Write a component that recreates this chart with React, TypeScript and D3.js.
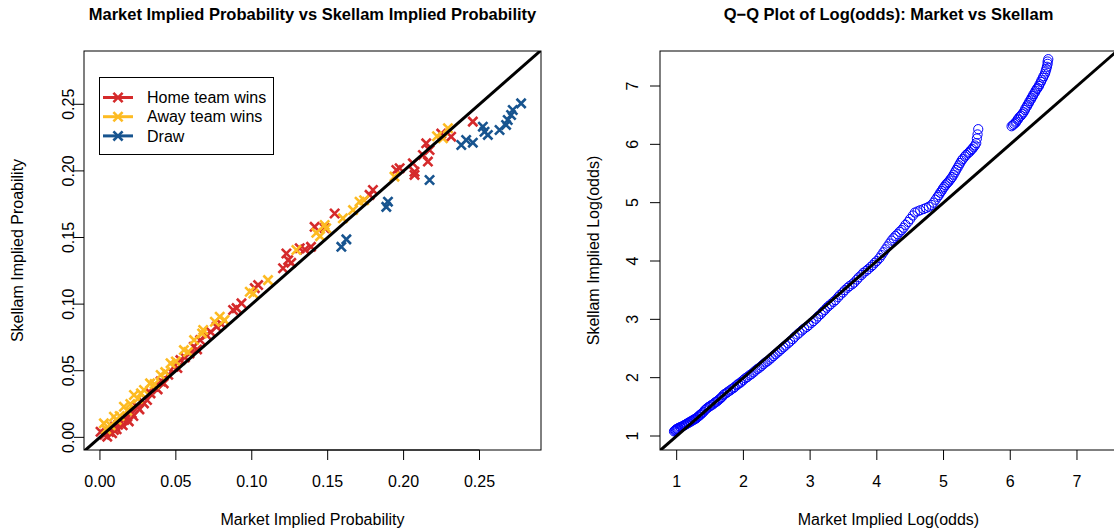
import React from "react";
import * as d3 from "d3";

// ---- Left panel data: (market implied prob, skellam implied prob) ----
const homeMarket = [0.0004, 0.003, 0.0048, 0.006, 0.008, 0.0092, 0.010, 0.011, 0.012, 0.0136, 0.015, 0.016, 0.018, 0.019, 0.021, 0.022, 0.0245, 0.026, 0.029, 0.031, 0.0333, 0.0355, 0.038, 0.040, 0.042, 0.045, 0.0487, 0.051, 0.053, 0.056, 0.059, 0.0618, 0.064, 0.066, 0.0702, 0.073, 0.0768, 0.080, 0.0877, 0.090, 0.0932, 0.1042, 0.102, 0.1206, 0.1228, 0.124, 0.126, 0.1316, 0.135, 0.139, 0.1414, 0.148, 0.1546, 0.1776, 0.1798, 0.1952, 0.1974, 0.2061, 0.2072, 0.2072, 0.216, 0.2127, 0.2171, 0.2149, 0.2248, 0.2313, 0.2456];
const homeSkellam = [0.0042, 0.002, 0.0005, 0.004, 0.003, 0.0055, 0.008, 0.006, 0.0095, 0.0105, 0.009, 0.013, 0.0155, 0.012, 0.018, 0.016, 0.023, 0.021, 0.0255, 0.028, 0.033, 0.038, 0.036, 0.042, 0.0405, 0.047, 0.053, 0.052, 0.058, 0.060, 0.063, 0.068, 0.066, 0.073, 0.0768, 0.079, 0.083, 0.085, 0.0956, 0.097, 0.1006, 0.1143, 0.112, 0.1269, 0.138, 0.133, 0.131, 0.1419, 0.141, 0.143, 0.158, 0.157, 0.168, 0.182, 0.1857, 0.2007, 0.202, 0.2057, 0.1994, 0.197, 0.207, 0.212, 0.2157, 0.2207, 0.228, 0.2257, 0.237];

const awayMarket = [0.0026, 0.004, 0.007, 0.0092, 0.011, 0.013, 0.0158, 0.018, 0.020, 0.0224, 0.025, 0.027, 0.029, 0.033, 0.036, 0.040, 0.043, 0.0465, 0.050, 0.0553, 0.058, 0.062, 0.0673, 0.068, 0.0757, 0.0789, 0.082, 0.0987, 0.101, 0.1107, 0.1294, 0.1425, 0.145, 0.148, 0.149, 0.160, 0.1667, 0.171, 0.174, 0.194, 0.222, 0.2259, 0.2292];
const awaySkellam = [0.0105, 0.006, 0.009, 0.0155, 0.013, 0.016, 0.023, 0.020, 0.025, 0.0318, 0.029, 0.033, 0.0355, 0.0405, 0.040, 0.0468, 0.049, 0.0556, 0.057, 0.0655, 0.064, 0.073, 0.078, 0.0806, 0.0868, 0.0905, 0.088, 0.1093, 0.108, 0.118, 0.1406, 0.1535, 0.151, 0.1594, 0.157, 0.1644, 0.1706, 0.1769, 0.178, 0.1957, 0.226, 0.2245, 0.232];

const drawMarket = [0.159, 0.1623, 0.1886, 0.1897, 0.2171, 0.238, 0.2412, 0.2456, 0.2522, 0.2533, 0.2555, 0.2632, 0.2675, 0.2686, 0.2708, 0.2719, 0.2774];
const drawSkellam = [0.143, 0.1486, 0.173, 0.1769, 0.1932, 0.2194, 0.2232, 0.2212, 0.2332, 0.2294, 0.227, 0.2307, 0.2345, 0.2382, 0.242, 0.2457, 0.2507];

// ---- Right panel: sorted quantile pairs [market log(odds), skellam log(odds)] ----
const qqPairs: [number, number][] = [
  [0.96, 1.08], [0.97, 1.09], [0.98, 1.10], [0.99, 1.11], [1.00, 1.12], [1.01, 1.12], [1.02, 1.13], [1.03, 1.14], [1.05, 1.15], [1.06, 1.15],
  [1.08, 1.16], [1.09, 1.17], [1.11, 1.18], [1.12, 1.19], [1.14, 1.20], [1.15, 1.21], [1.17, 1.22], [1.18, 1.23], [1.20, 1.24], [1.21, 1.25],
  [1.23, 1.26], [1.24, 1.27], [1.26, 1.28], [1.27, 1.29], [1.29, 1.30], [1.30, 1.31], [1.32, 1.33], [1.33, 1.34], [1.35, 1.36], [1.36, 1.37],
  [1.38, 1.39], [1.40, 1.41], [1.42, 1.44], [1.44, 1.46], [1.46, 1.48], [1.48, 1.50], [1.50, 1.51], [1.52, 1.53], [1.54, 1.54], [1.56, 1.56],
  [1.58, 1.58], [1.60, 1.59], [1.62, 1.61], [1.64, 1.63], [1.66, 1.65], [1.68, 1.67], [1.70, 1.70], [1.72, 1.72], [1.75, 1.74], [1.77, 1.76],
  [1.80, 1.78], [1.82, 1.80], [1.85, 1.82], [1.87, 1.84], [1.90, 1.87], [1.92, 1.89], [1.95, 1.91], [1.97, 1.93], [2.00, 1.96], [2.03, 1.99],
  [2.06, 2.01], [2.09, 2.04], [2.12, 2.06], [2.15, 2.09], [2.18, 2.12], [2.21, 2.15], [2.24, 2.17], [2.27, 2.20], [2.30, 2.23], [2.33, 2.26],
  [2.36, 2.28], [2.39, 2.31], [2.42, 2.34], [2.45, 2.37], [2.48, 2.40], [2.51, 2.43], [2.54, 2.46], [2.57, 2.49], [2.60, 2.52], [2.63, 2.55],
  [2.67, 2.59], [2.70, 2.62], [2.74, 2.66], [2.77, 2.70], [2.81, 2.74], [2.84, 2.77], [2.88, 2.81], [2.91, 2.84], [2.95, 2.87], [2.98, 2.90],
  [3.02, 2.94], [3.05, 2.97], [3.09, 3.01], [3.12, 3.05], [3.16, 3.09], [3.19, 3.13], [3.22, 3.16], [3.25, 3.20], [3.28, 3.23], [3.31, 3.26],
  [3.35, 3.30], [3.38, 3.33], [3.42, 3.38], [3.45, 3.42], [3.49, 3.46], [3.52, 3.50], [3.56, 3.54], [3.59, 3.57], [3.63, 3.60], [3.66, 3.63],
  [3.70, 3.68], [3.73, 3.72], [3.77, 3.76], [3.80, 3.80], [3.84, 3.83], [3.87, 3.86], [3.91, 3.90], [3.94, 3.93], [3.97, 3.97], [4.00, 4.00],
  [4.04, 4.05], [4.07, 4.10], [4.10, 4.15], [4.13, 4.20], [4.16, 4.25], [4.19, 4.30], [4.22, 4.35], [4.25, 4.39], [4.28, 4.43], [4.31, 4.46],
  [4.34, 4.50], [4.37, 4.53], [4.40, 4.57], [4.43, 4.62], [4.47, 4.67], [4.50, 4.72], [4.54, 4.78], [4.57, 4.83], [4.61, 4.85], [4.65, 4.87],
  [4.70, 4.89], [4.74, 4.91], [4.78, 4.93], [4.82, 4.96], [4.85, 5.00], [4.88, 5.05], [4.91, 5.10], [4.93, 5.13], [4.95, 5.17], [4.97, 5.20],
  [4.99, 5.24], [5.01, 5.27], [5.03, 5.30], [5.05, 5.33], [5.07, 5.35], [5.09, 5.38], [5.11, 5.41], [5.13, 5.44], [5.15, 5.48], [5.17, 5.52],
  [5.19, 5.56], [5.21, 5.60], [5.23, 5.64], [5.25, 5.68], [5.27, 5.72], [5.29, 5.75], [5.32, 5.79], [5.34, 5.82], [5.37, 5.85], [5.39, 5.87],
  [5.41, 5.90], [5.43, 5.92], [5.45, 5.95], [5.47, 5.98], [5.49, 6.02], [5.50, 6.10], [5.51, 6.17], [5.52, 6.26],
  [6.02, 6.31], [6.04, 6.33], [6.06, 6.35], [6.08, 6.37], [6.09, 6.39], [6.11, 6.42], [6.12, 6.44], [6.14, 6.47], [6.16, 6.49], [6.18, 6.52],
  [6.20, 6.55], [6.22, 6.59], [6.23, 6.62], [6.25, 6.65], [6.26, 6.68], [6.28, 6.71], [6.29, 6.74], [6.31, 6.77], [6.32, 6.80], [6.34, 6.83],
  [6.35, 6.86], [6.37, 6.89], [6.38, 6.92], [6.40, 6.95], [6.41, 6.97], [6.43, 7.00], [6.44, 7.03], [6.46, 7.07], [6.47, 7.10], [6.49, 7.14],
  [6.50, 7.17], [6.52, 7.21], [6.53, 7.25], [6.54, 7.29], [6.55, 7.33], [6.56, 7.38], [6.56, 7.42], [6.57, 7.46],
];

const probTicks = [0, 0.05, 0.1, 0.15, 0.2, 0.25];
const logTicks = [1, 2, 3, 4, 5, 6, 7];
const legendLabels = ["Home team wins", "Away team wins", "Draw"];
const seriesColors = ["#D52A2B", "#FDBB22", "#17548F"];

const FONT = "'Liberation Sans', Arial, Helvetica, sans-serif";

function crossPath(x: number, y: number, s: number) {
  return `M${x - s},${y - s}L${x + s},${y + s}M${x - s},${y + s}L${x + s},${y - s}`;
}

export default function App() {
  const W = 1114, H = 531;
  const L = { left: 84, right: 541, top: 51, bottom: 450 };
  const R = { left: 660, right: 1117, top: 51, bottom: 450 };

  const x1 = d3.scaleLinear().domain([-0.0105, 0.2905]).range([L.left, L.right]);
  const y1 = d3.scaleLinear().domain([-0.0095, 0.29]).range([L.bottom, L.top]);
  const x2 = d3.scaleLinear().domain([0.75, 7.6]).range([R.left, R.right]);
  const y2 = d3.scaleLinear().domain([0.76, 7.6]).range([R.bottom, R.top]);

  const fmt = d3.format(".2f");
  const series = [
    { m: homeMarket, s: homeSkellam },
    { m: awayMarket, s: awaySkellam },
    { m: drawMarket, s: drawSkellam },
  ];

  const tickLen = 10;
  const fs = 16;

  const lineGen1 = d3.line<number>().x((d) => x1(d)).y((d) => y1(d));
  const lineGen2 = d3.line<number>().x((d) => x2(d)).y((d) => y2(d));

  return (
    <div style={{ position: "fixed", left: 0, top: 0, width: W, height: H, background: "#fff" }}>
      <svg width={W} height={H} style={{ display: "block", fontFamily: FONT }}>
        <defs>
          <clipPath id="clipL"><rect x={L.left} y={L.top} width={L.right - L.left} height={L.bottom - L.top} /></clipPath>
          <clipPath id="clipR"><rect x={R.left} y={R.top} width={R.right - R.left} height={R.bottom - R.top} /></clipPath>
        </defs>
        <rect width={W} height={H} fill="#fff" />

        {/* ---------- Left panel ---------- */}
        <text x={(L.left + L.right) / 2} y={20} textAnchor="middle" fontWeight="bold" fontSize={16.5}>
          Market Implied Probability vs Skellam Implied Probability
        </text>
        <g clipPath="url(#clipL)">
          {series.map((ser, si) => (
            <g key={si} stroke={seriesColors[si]} strokeWidth={2.6} fill="none">
              {ser.m.map((mv, i) => (
                <path key={i} d={crossPath(x1(mv), y1(ser.s[i]), 4.6)} />
              ))}
            </g>
          ))}
          <path d={lineGen1([-0.05, 0.35]) || ""} stroke="#000" strokeWidth={3} fill="none" />
        </g>
        <rect x={L.left} y={L.top} width={L.right - L.left} height={L.bottom - L.top} fill="none" stroke="#000" strokeWidth={1} />
        <line x1={x1(probTicks[0])} x2={x1(probTicks[probTicks.length - 1])} y1={L.bottom} y2={L.bottom} stroke="#000" />
        {probTicks.map((t) => (
          <g key={"lx" + t}>
            <line x1={x1(t)} x2={x1(t)} y1={L.bottom} y2={L.bottom + tickLen} stroke="#000" />
            <text x={x1(t)} y={487} textAnchor="middle" fontSize={fs}>{fmt(t)}</text>
          </g>
        ))}
        {probTicks.map((t) => (
          <g key={"ly" + t}>
            <line x1={L.left - tickLen} x2={L.left} y1={y1(t)} y2={y1(t)} stroke="#000" />
            <text transform={`translate(${L.left - 10.5},${y1(t)}) rotate(-90)`} textAnchor="middle" fontSize={fs}>{fmt(t)}</text>
          </g>
        ))}
        <text x={(L.left + L.right) / 2} y={525} textAnchor="middle" fontSize={fs}>Market Implied Probability</text>
        <text transform={`translate(23,${(L.top + L.bottom) / 2}) rotate(-90)`} textAnchor="middle" fontSize={fs}>Skellam Implied Proability</text>

        {/* legend */}
        <rect x={99.5} y={77.5} width={174} height={77} fill="#fff" stroke="#000" strokeWidth={1} />
        {legendLabels.map((lab, i) => {
          const yy = 97.5 + i * 19.2;
          return (
            <g key={lab}>
              <line x1={103} x2={133} y1={yy} y2={yy} stroke={seriesColors[i]} strokeWidth={3} />
              <path d={crossPath(118, yy, 4.6)} stroke={seriesColors[i]} strokeWidth={2.6} fill="none" />
              <text x={147} y={yy + 5.7} fontSize={fs}>{lab}</text>
            </g>
          );
        })}

        {/* ---------- Right panel ---------- */}
        <text x={(R.left + R.right) / 2} y={20} textAnchor="middle" fontWeight="bold" fontSize={16.5}>
          Q{"\u2212"}Q Plot of Log(odds): Market vs Skellam
        </text>
        <g clipPath="url(#clipR)">
          {qqPairs.map(([mv, sv], i) => (
            <circle key={i} cx={x2(mv)} cy={y2(sv)} r={4.6} fill="none" stroke="#0000FF" strokeWidth={1} />
          ))}
          <path d={lineGen2([0, 9]) || ""} stroke="#000" strokeWidth={3} fill="none" />
        </g>
        <rect x={R.left} y={R.top} width={R.right - R.left} height={R.bottom - R.top} fill="none" stroke="#000" strokeWidth={1} />
        {logTicks.map((t) => (
          <g key={"rx" + t}>
            <line x1={x2(t)} x2={x2(t)} y1={R.bottom} y2={R.bottom + tickLen} stroke="#000" />
            <text x={x2(t)} y={487} textAnchor="middle" fontSize={fs}>{t}</text>
          </g>
        ))}
        {logTicks.map((t) => (
          <g key={"ry" + t}>
            <line x1={R.left - tickLen} x2={R.left} y1={y2(t)} y2={y2(t)} stroke="#000" />
            <text transform={`translate(${R.left - 22},${y2(t)}) rotate(-90)`} textAnchor="middle" fontSize={fs}>{t}</text>
          </g>
        ))}
        <text x={(R.left + R.right) / 2} y={525} textAnchor="middle" fontSize={fs}>Market Implied Log(odds)</text>
        <text transform={`translate(599,${(R.top + R.bottom) / 2}) rotate(-90)`} textAnchor="middle" fontSize={fs}>Skellam Implied Log(odds)</text>
      </svg>
    </div>
  );
}
